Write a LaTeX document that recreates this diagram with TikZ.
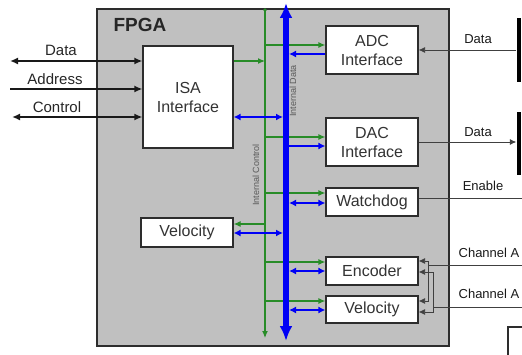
\documentclass[tikz,border=0pt]{standalone}
\usepackage{fontspec}
\setmainfont{Liberation Sans}
\usetikzlibrary{arrows.meta,positioning,calc}

\definecolor{fpgagray}{RGB}{192,192,192}
\definecolor{edgegray}{RGB}{45,45,45}
\definecolor{greenbus}{RGB}{40,140,40}
\definecolor{bluebus}{RGB}{0,0,245}

\begin{document}
\begin{tikzpicture}[
    x=1pt, y=-1pt,
    fpgabox/.style={rectangle, draw=edgegray, line width=1.8pt, fill=fpgagray, inner sep=0pt, minimum width=352pt, minimum height=337pt},
    block/.style={rectangle, draw=edgegray, line width=1.2pt, fill=white, inner sep=0pt, minimum width=92pt, align=center, text=black!80, font=\fontsize{16}{19}\selectfont},
    devbar/.style={rectangle, fill=black, inner sep=0pt, minimum width=4pt},
    leftlbl/.style={font=\fontsize{15}{17}\selectfont, text=black!85},
    rightlbl/.style={font=\fontsize{13}{15}\selectfont, text=black!90},
    busnote/.style={font=\fontsize{9}{10}\selectfont, text=black!65, rotate=90},
    isaline/.style={line width=2pt, draw=black!90, >={Latex[length=8pt,width=7pt]}},
    thinline/.style={line width=0.8pt, draw=black!75, >={Latex[length=6.5pt,width=6pt]}},
    garrow/.style={line width=1.2pt, draw=greenbus, >={Latex[length=7pt,width=6pt]}},
    barrow/.style={line width=2pt, draw=bluebus, >={Latex[length=7pt,width=7pt]}},
]
\useasboundingbox (0,0) rectangle (522,355);

% FPGA outline
\node[fpgabox] (fpga) at (273,177.5) {};
\node[font=\bfseries\fontsize{19}{22}\selectfont, text=black!85] (fpgalbl) at (140,25) {FPGA};

% Blocks
\node[block, minimum width=90pt, minimum height=102pt] (isa) at (188,97) {ISA\\Interface};
\node[block, minimum height=48pt] (adc) at (372,50) {ADC\\Interface};
\node[block, minimum height=48pt] (dac) at (372,142) {DAC\\Interface};
\node[block, minimum height=28pt] (wd) at (372,202) {Watchdog};
\node[block, minimum height=28pt] (enc) at (372,271) {Encoder};
\node[block, minimum height=27pt] (velr) at (372,309.5) {Velocity};
\node[block, minimum height=29pt] (vell) at (187,232.5) {Velocity};

% ISA bus lines
\coordinate (dataL) at (10,61);
\coordinate (addrL) at (10,89);
\coordinate (ctrlL) at (12,117);
\draw[isaline, <->] (dataL) -- (dataL -| isa.west);
\draw[isaline, ->] (addrL) -- (addrL -| isa.west);
\draw[isaline, <->] (ctrlL) -- (ctrlL -| isa.west);
\node[leftlbl] (datalbl) at (61,50) {Data};
\node[leftlbl] (addrlbl) at (55,79) {Address};
\node[leftlbl] (ctrllbl) at (57,107) {Control};

% Internal buses
\coordinate (gtop) at (265,10);
\coordinate (gbot) at (265,338);
\coordinate (btop) at (286,3);
\coordinate (bbot) at (286,341);

% Internal control (green)
\draw[garrow, ->] (isa.east |- dataL) -- (gtop |- dataL);
\draw[garrow, ->] ([yshift=5pt]adc.west -| gtop) -- ([yshift=5pt]adc.west);
\draw[garrow, ->] ([yshift=5pt]dac.west -| gtop) -- ([yshift=5pt]dac.west);
\foreach \blk/\gs in {wd/9, enc/9, velr/8.5}
    \draw[garrow, ->] ([yshift=\gs pt]\blk.west -| gtop) -- ([yshift=\gs pt]\blk.west);
\draw[garrow, ->] ([yshift=8.5pt]vell.east -| gtop) -- ([yshift=8.5pt]vell.east);
\draw[garrow, ->] (gtop) -- (gbot);
\fill[greenbus] (gtop) circle (1.8pt);

% Internal data (blue)
\draw[barrow, <->, shorten >=3pt] (isa.east |- ctrlL) -- (btop |- ctrlL);
\draw[barrow, ->, shorten >=3pt] ([yshift=-4pt]adc.west) -- ([yshift=-4pt]adc.west -| btop);
\draw[barrow, ->, shorten <=3pt] ([yshift=-4pt]dac.west -| btop) -- ([yshift=-4pt]dac.west);
\foreach \blk/\bs in {wd/-1, enc/0, velr/-0.5}
    \draw[barrow, <->, shorten <=3pt] ([yshift=\bs pt]\blk.west -| btop) -- ([yshift=\bs pt]\blk.west);
\draw[barrow, <->, shorten >=3pt] ([yshift=-0.5pt]vell.east) -- ([yshift=-0.5pt]vell.east -| btop);
\draw[line width=5.5pt, draw=bluebus, {Latex[length=15pt,width=13pt]}-{Latex[length=15pt,width=13pt]}] (bbot) -- (btop);

\node[busnote] (datanote) at (293,91) {Internal Data};
\node[busnote] (ctrlnote) at (256,175) {Internal Control};

% External side
\node[devbar, minimum height=64pt] (adcdev) at (518.5,50) {};
\node[devbar, minimum height=63pt] (dacdev) at (518.5,143.5) {};
\draw[thinline, ->] (adcdev.west |- adc.east) -- (adc.east);
\draw[thinline, ->] (dac.east) -- (dacdev.west |- dac.east);
\node[rightlbl] (adcdata) at (478,39) {Data};
\node[rightlbl] (dacdata) at (478,132) {Data};

\coordinate (enR) at (522,198);
\draw[thinline] (wd.east |- enR) -- (enR);
\node[rightlbl] (enlbl) at (483,186) {Enable};

\coordinate (chA) at (522,265);
\coordinate (chB) at (522,307);
\coordinate (jA) at (428,265);
\coordinate (jB) at (433,307);
\draw[thinline] (chA) -- (jA);
\draw[thinline] (chB) -- (jB);
\draw[thinline, ->] (jA) |- ([yshift=10pt]enc.east);
\draw[thinline, ->] (jA) |- ([yshift=8.5pt]velr.east);
\draw[thinline, ->] (jB) |- ([yshift=-1pt]enc.east);
\draw[thinline, ->] (jB) |- ([yshift=-2.5pt]velr.east);
\node[rightlbl] (chalbl) at (489,253) {Channel A};
\node[rightlbl] (chblbl) at (489,293.5) {Channel A};

\node[block, minimum width=34pt, minimum height=36pt] (outbox) at (525,345) {};

\end{tikzpicture}
\end{document}
